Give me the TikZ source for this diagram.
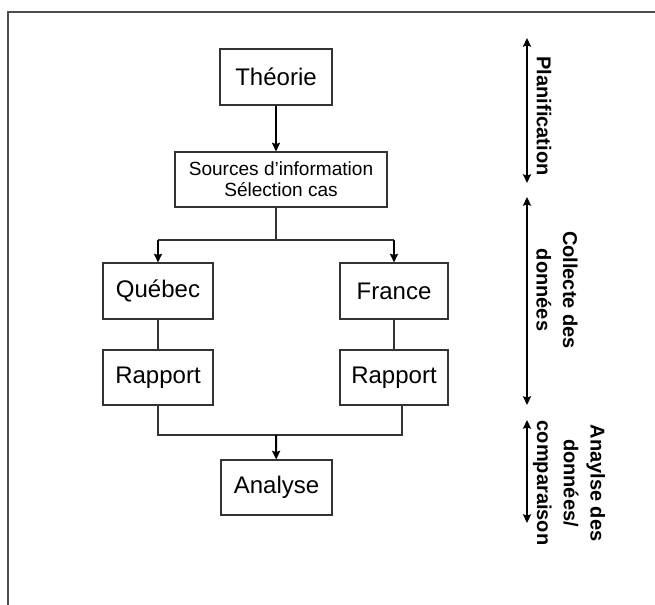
\documentclass[tikz,border=0pt]{standalone}
\usepackage{fontspec}
\setmainfont{Liberation Sans}
\usetikzlibrary{arrows.meta,positioning}

\begin{document}
\begin{tikzpicture}[x=0.75pt,y=-0.75pt,>={Stealth[length=6.5pt,width=6pt,inset=1pt]},
        box/.style={draw=black!80,line width=0.8pt,inner sep=0pt,align=center,
          font=\fontsize{18}{22}\selectfont},
        link/.style={draw=black!80,line width=0.8pt},
        flow/.style={->,line width=1.5pt},
        phase/.style={<->,line width=1.5pt},
        phase label/.style={rotate=-90,align=center,
          font=\bfseries\fontsize{15}{20}\selectfont}]

      \useasboundingbox (0,0) rectangle (655,605);
      \draw[line width=1.2pt,black!70] (8,605) -- (8,12) -- (655,12);

      % main flow
      \node[box,minimum width=84pt,minimum height=42pt] (theorie) at (276,77) {Théorie};
      \node[box,minimum width=159pt,minimum height=41.25pt,
        font=\fontsize{14.3}{15.5}\selectfont] (sources) at (281,179.5)
        {Sources d'information\\Sélection cas};
      \node[box,minimum width=82.5pt,minimum height=42pt] (quebec) at (158,291) {Québec};
      \node[box,minimum width=81pt,minimum height=42pt] (france) at (394,291) {France};
      \node[box,minimum width=82.5pt,minimum height=41.25pt] (rapq) at (158,377.5) {Rapport};
      \node[box,minimum width=81pt,minimum height=41.25pt] (rapf) at (394,377.5) {Rapport};
      \node[box,minimum width=83.25pt,minimum height=41.25pt] (analyse) at (276.5,487.5) {Analyse};

      \coordinate (split) at (276,240);
      \coordinate (join) at (276,435);

      \draw[flow] (theorie.south) -- (theorie.south |- sources.north);
      \draw[link] (sources.south -| split) -- (split);
      \draw[link] (quebec.north |- split) -- (france.north |- split);
      \draw[flow] (quebec.north |- split) -- (quebec.north);
      \draw[flow] (france.north |- split) -- (france.north);
      \draw[link] (quebec) -- (rapq);
      \draw[link] (france) -- (rapf);
      \draw[link] (rapq.south) |- (join) -| ([xshift=6pt]rapf.south);
      \draw[flow] (join) -- (analyse);

      % phases
      \coordinate (plan top) at (527,38);
      \coordinate (plan bot) at (527,183);
      \coordinate (coll top) at (527,197);
      \coordinate (coll bot) at (527,405);
      \coordinate (ana top) at (527,420);
      \coordinate (ana bot) at (527,523);

      \draw[phase] (plan top) -- (plan bot);
      \draw[phase] (coll top) -- (coll bot);
      \draw[phase] (ana top) -- (ana bot);

      \node[phase label] (plan) at (544,116) {Planification};
      \node[phase label] (coll) at (557,290) {Collecte des\\données};
      \node[phase label] (ana) at (569,483) {Anaylse des\\données/\\comparaison};
    \end{tikzpicture}
\end{document}
